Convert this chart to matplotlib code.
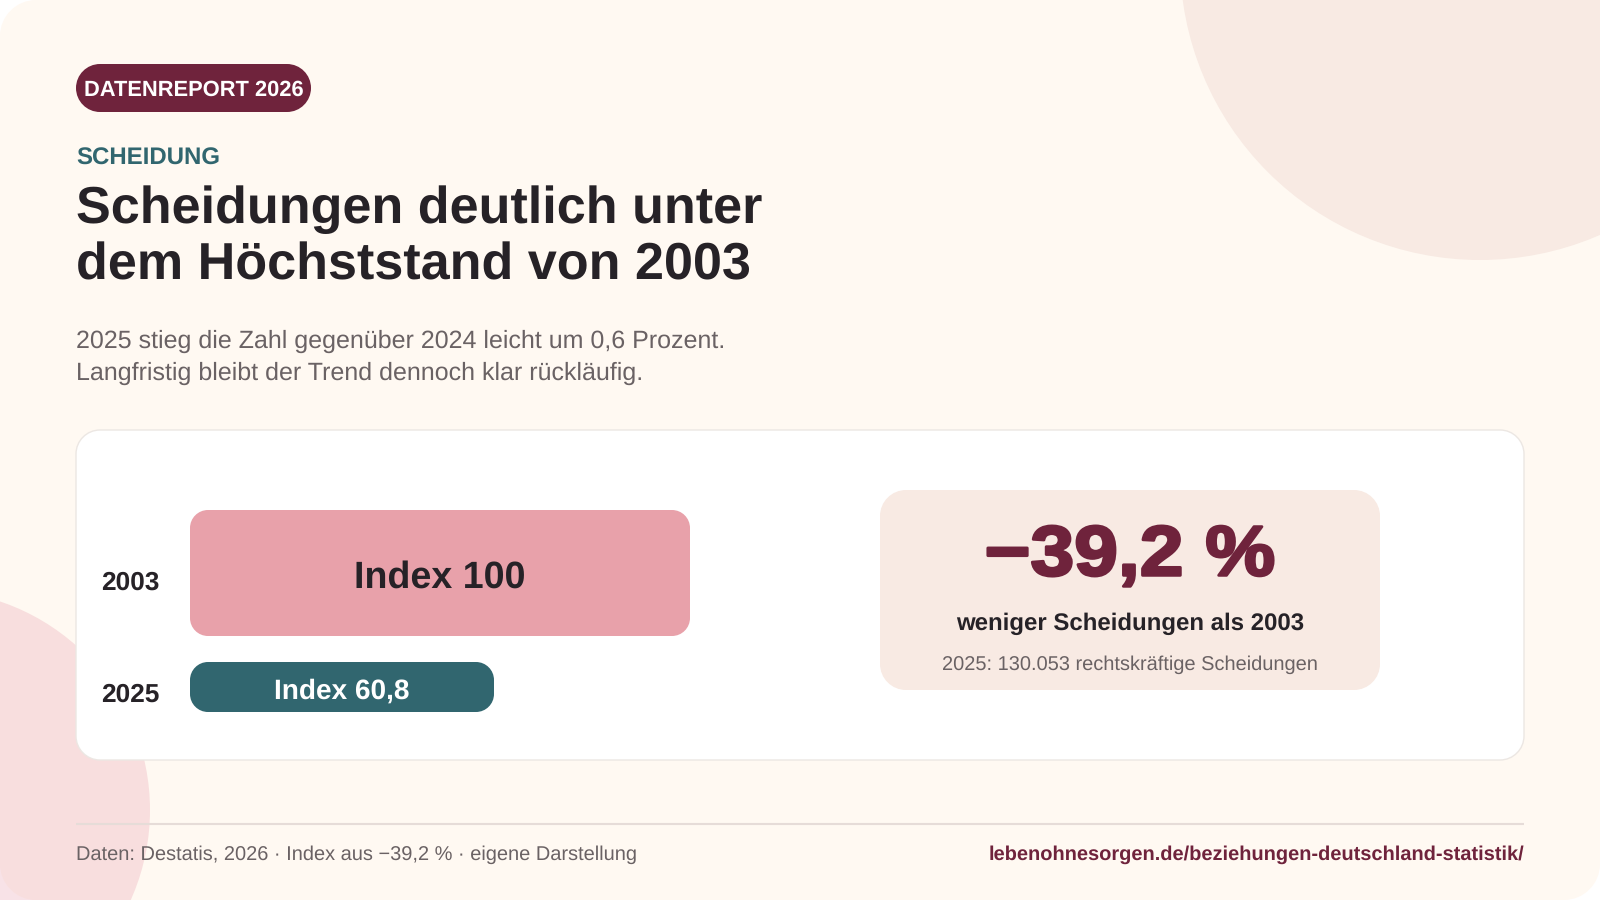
import matplotlib
matplotlib.use('Agg')
import matplotlib.pyplot as plt
import matplotlib.patheffects as pe
from matplotlib.patches import Circle, PathPatch
from matplotlib.path import Path
from matplotlib.transforms import Affine2D

plt.rcParams['font.family'] = ['Liberation Sans', 'DejaVu Sans']
plt.rcParams['text.hinting'] = 'none'

# datos
anios = ['2003', '2025']
indice = [100, 60.8]
etiquetas = ['Index 100', 'Index 60,8']
cambio = '−39,2 %'

CREMA = '#fff9f2'
VINO = '#6f233c'
PETROLEO = '#31666f'
ROSA = '#e8a1aa'
ARENA = '#f8eae3'
TINTA = '#262227'
GRIS = '#6a6264'


def caja(ax, x0, y0, x1, y1, rx, ry, color, borde='none', lw=0, z=1):
    # rectangulo redondeado con arcos de verdad
    kx, ky = rx * 0.4477, ry * 0.4477
    verts = [(x0 + rx, y0), (x1 - rx, y0),
             (x1 - kx, y0), (x1, y0 + ky), (x1, y0 + ry),
             (x1, y1 - ry),
             (x1, y1 - ky), (x1 - kx, y1), (x1 - rx, y1),
             (x0 + rx, y1),
             (x0 + kx, y1), (x0, y1 - ky), (x0, y1 - ry),
             (x0, y0 + ry),
             (x0, y0 + ky), (x0 + kx, y0), (x0 + rx, y0),
             (x0 + rx, y0)]
    codes = [Path.MOVETO, Path.LINETO, Path.CURVE4, Path.CURVE4, Path.CURVE4, Path.LINETO,
             Path.CURVE4, Path.CURVE4, Path.CURVE4, Path.LINETO,
             Path.CURVE4, Path.CURVE4, Path.CURVE4, Path.LINETO,
             Path.CURVE4, Path.CURVE4, Path.CURVE4, Path.CLOSEPOLY]
    p = PathPatch(Path(verts, codes), fc=color, ec=borde, lw=lw, zorder=z, clip_on=False)
    ax.add_patch(p)
    return p


class Ancho(pe.AbstractPathEffect):
    # texto mas ancho y mas grueso, como el numero grande del original
    def __init__(self, sx, centro, lw):
        super().__init__()
        self.sx, self.centro, self.lw = sx, centro, lw

    def draw_path(self, renderer, gc, tpath, affine, rgbFace=None):
        t = affine + Affine2D().translate(-self.centro, 0).scale(self.sx, 1).translate(self.centro, 0)
        gc0 = renderer.new_gc()
        gc0.copy_properties(gc)
        gc0.set_foreground(rgbFace)
        gc0.set_linewidth(self.lw)
        renderer.draw_path(gc0, tpath, t, rgbFace)
        gc0.restore()


fig = plt.figure(figsize=(16, 9), dpi=100, facecolor='white')

# fondo en pixeles
bg = fig.add_axes([0, 0, 1, 1])
bg.set_xlim(0, 1600)
bg.set_ylim(900, 0)
bg.axis('off')

caja(bg, 0, 0, 1600, 900, 36, 36, CREMA, z=1)
bg.add_patch(Circle((1480, -40), 300, fc=ARENA, ec='none', zorder=2))
bg.add_patch(Circle((-70, 810), 220, fc='#e8a1b0', alpha=0.3, ec='none', zorder=2))

caja(bg, 76, 64, 311, 112, 24, 24, VINO, z=3)
bg.text(193.5, 90, 'DATENREPORT 2026', color='white', fontsize=15.75, fontweight='bold',
        ha='center', va='center', zorder=4)
bg.text(76, 159, 'SCHEIDUNG', color=PETROLEO, fontsize=17.25, fontweight='bold',
        ha='left', va='center', zorder=4)
bg.text(76, 210, 'Scheidungen deutlich unter', color=TINTA, fontsize=37.5, fontweight='bold',
        ha='left', va='center', zorder=4)
bg.text(76, 266, 'dem Höchststand von 2003', color=TINTA, fontsize=37.5, fontweight='bold',
        ha='left', va='center', zorder=4)
bg.text(76, 341, '2025 stieg die Zahl gegenüber 2024 leicht um 0,6 Prozent.', color=GRIS,
        fontsize=18, ha='left', va='center', zorder=4)
bg.text(76, 373, 'Langfristig bleibt der Trend dennoch klar rückläufig.', color=GRIS,
        fontsize=18, ha='left', va='center', zorder=4)

# tarjeta blanca
caja(bg, 76, 430, 1524, 760, 24, 24, 'white', borde='#ece7e3', lw=1.0, z=3)

# recuadro derecho
caja(bg, 880, 490, 1380, 690, 26, 26, ARENA, z=4)
grande = bg.text(1130, 557, cambio, color=VINO, fontsize=51, fontweight='bold', ha='center',
                 va='center', zorder=5)
grande.set_path_effects([Ancho(1.11, 1130, 2.0)])
bg.text(1130, 624, 'weniger Scheidungen als 2003', color=TINTA, fontsize=17.3, fontweight='bold',
        ha='center', va='center', zorder=5)
bg.text(1130, 665, '2025: 130.053 rechtskräftige Scheidungen', color=GRIS, fontsize=14.4,
        ha='center', va='center', zorder=5)

# pie
bg.plot([76, 1524], [824, 824], color='#e6dcd8', lw=1.5, zorder=3, solid_capstyle='butt')
bg.text(76, 855, 'Daten: Destatis, 2026 · Index aus −39,2 % · eigene Darstellung', color=GRIS,
        fontsize=14.37, ha='left', va='center', zorder=4)
bg.text(1524, 855, 'lebenohnesorgen.de/beziehungen-deutschland-statistik/', color=VINO,
        fontsize=14.43, fontweight='bold', ha='right', va='center', zorder=4)

# barras: eje x = indice, 5 px por punto
ax = fig.add_axes([190 / 1600, 1 - 720 / 900, 500 / 1600, 220 / 900])
ax.set_xlim(0, 100)
ax.set_ylim(720, 500)
ax.axis('off')
ax.patch.set_alpha(0)

tops = [510, 662]
altos = [126, 50]
colores = [ROSA, PETROLEO]
colores_txt = [TINTA, 'white']
tam_txt = [27.1, 20.2]
y_txt = [578, 691]
y_anio = [583, 695]
for i in range(len(anios)):
    caja(ax, 0, tops[i], indice[i], tops[i] + altos[i], 3.6, 18, colores[i], z=3)
    ax.text(indice[i] / 2, y_txt[i], etiquetas[i], color=colores_txt[i], fontsize=tam_txt[i],
            fontweight='bold', ha='center', va='center', zorder=4)
    bg.text(101.5, y_anio[i], anios[i], color=TINTA, fontsize=18.9, fontweight='bold',
            ha='left', va='center', zorder=5)

fig.savefig('out.png', dpi=100, facecolor='white')
